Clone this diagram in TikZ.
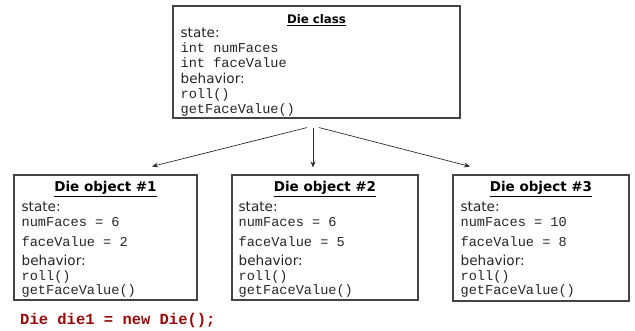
\documentclass[tikz,border=0pt]{standalone}
\usepackage{fontspec}
\setmainfont{DejaVu Sans}
\setmonofont{Liberation Mono}
\usetikzlibrary{arrows.meta,positioning}
\definecolor{boxgray}{RGB}{68,68,68}
\definecolor{arrowgray}{RGB}{45,45,45}
\definecolor{codered}{RGB}{150,10,10}
\tikzset{
    % Define standard node styles
    classbox/.style={
        rectangle, draw=boxgray, line width=1.1pt, fill=white,
        inner sep=0pt
    },
    titletext/.style={
        font=\fontsize{11.8}{14}\selectfont\bfseries,
        inner sep=0pt, anchor=base
    },
    objtitle/.style={
        titletext, font=\fontsize{13.5}{16}\selectfont\bfseries
    },
    classtext/.style={
        align=left, inner sep=0pt, anchor=base west,
        font=\fontsize{13.6}{15.2}\selectfont, text=black!85
    },
    objtext/.style={
        align=left, inner sep=0pt, anchor=base west,
        font=\fontsize{13.6}{14.5}\selectfont, text=black!85
    },
    arrow/.style={
        -{Stealth[length=6pt,width=5pt]}, line width=0.7pt, color=arrowgray
    },
    codetext/.style={
        font=\fontsize{15.5}{18}\selectfont\ttfamily\bfseries,
        text=codered, inner sep=0pt, anchor=base west
    }
}

\begin{document}
\begin{tikzpicture}[x=1pt, y=-1pt]
\useasboundingbox (0,0) rectangle (635,331);

% class box
\node[classbox, minimum width=287pt, minimum height=112pt] (dieclass) at (316.5,62) {};
\node[titletext] (dieclasstitle) at ([yshift=-18pt]dieclass.north) {\underline{Die class}};
\node[classtext] (dieclassbody) at ([xshift=8pt, yshift=5pt]dieclass.south west)
    {state:\\\texttt{int numFaces}\\\texttt{int faceValue}\\behavior:\\\texttt{roll()}\\\texttt{getFaceValue()}};

% object boxes
\node[classbox, minimum width=183pt, minimum height=125pt] (obj1) at (105.5,237.5) {};
\node[classbox, minimum width=186pt, minimum height=125pt] (obj2) at (325,237.5) {};
\node[classbox, minimum width=176pt, minimum height=126pt] (obj3) at (541,238) {};

\node[objtitle] (obj1title) at ([yshift=-17pt]obj1.north) {\underline{Die object \#1}};
\node[objtitle] (obj2title) at ([yshift=-17pt]obj2.north) {\underline{Die object \#2}};
\node[objtitle] (obj3title) at ([yshift=-17pt]obj3.north) {\underline{Die object \#3}};

\node[objtext] (obj1body) at ([xshift=8pt, yshift=6pt]obj1.south west)
    {state:\\\texttt{numFaces = 6}\\[5.5pt]\texttt{faceValue = 2}\\[4.8pt]behavior:\\\texttt{roll()}\\\texttt{getFaceValue()}};
\node[objtext] (obj2body) at ([xshift=7pt, yshift=6pt]obj2.south west)
    {state:\\\texttt{numFaces = 6}\\[5.5pt]\texttt{faceValue = 5}\\[4.8pt]behavior:\\\texttt{roll()}\\\texttt{getFaceValue()}};
\node[objtext] (obj3body) at ([xshift=8pt, yshift=7pt]obj3.south west)
    {state:\\\texttt{numFaces = 10}\\[5.5pt]\texttt{faceValue = 8}\\[4.8pt]behavior:\\\texttt{roll()}\\\texttt{getFaceValue()}};

% arrows
\draw[arrow] ([xshift=-9.5pt, yshift=-9pt]dieclass.south) -- ([xshift=46.5pt, yshift=8pt]obj1.north);
\draw[arrow] ([xshift=-3.5pt, yshift=-9pt]dieclass.south) -- ([xshift=-12pt, yshift=7pt]obj2.north);
\draw[arrow] ([xshift=2.5pt, yshift=-9pt]dieclass.south) -- ([xshift=-71pt, yshift=8pt]obj3.north);

\node[codetext] (decl) at (20,324.7) {Die die1 = new Die();};

\end{tikzpicture}
\end{document}
